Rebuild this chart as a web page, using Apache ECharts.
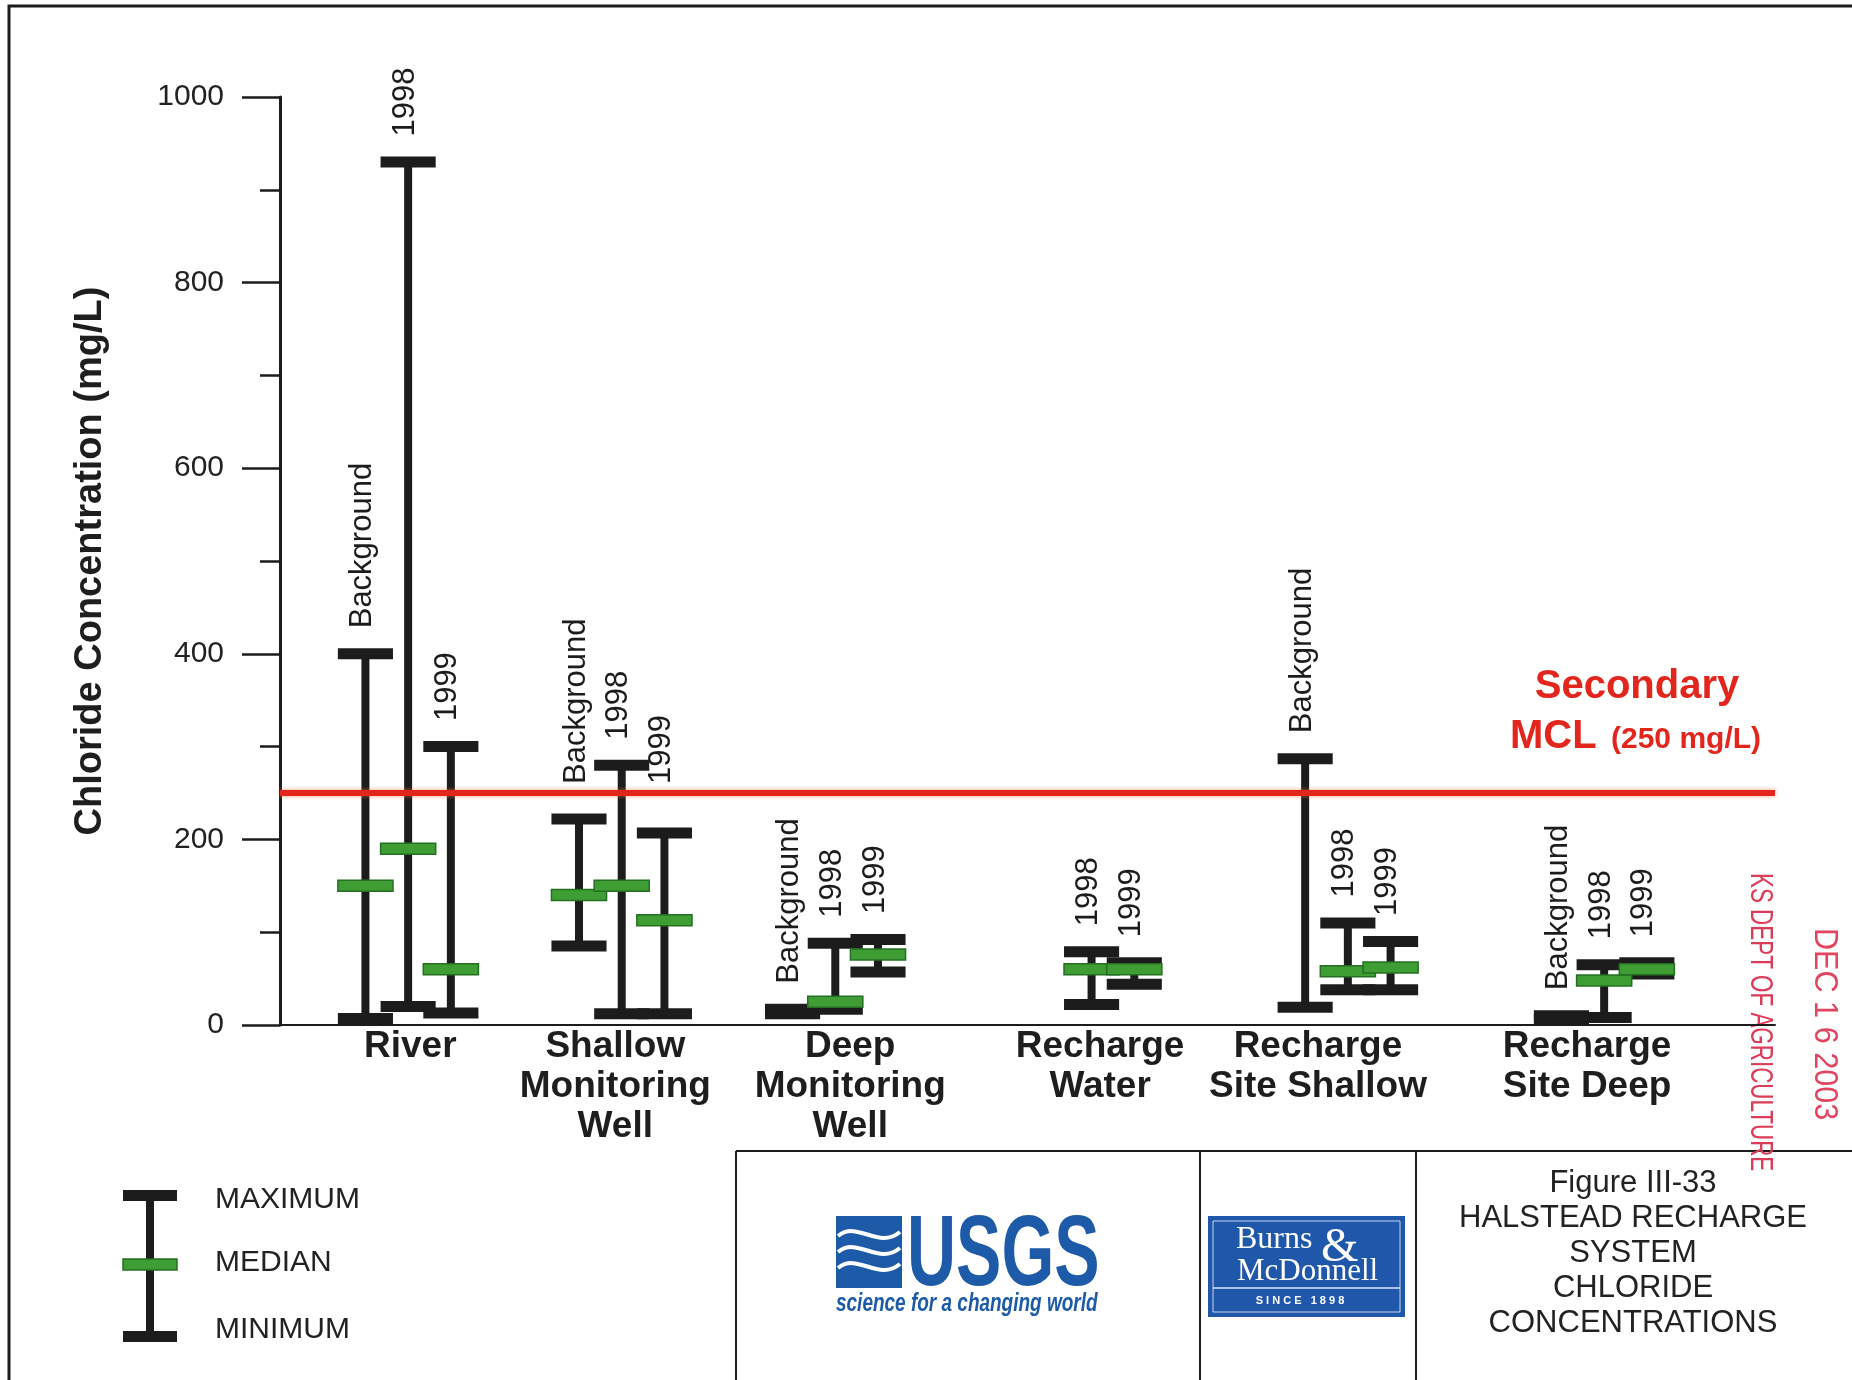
<!DOCTYPE html>
<html>
<head>
    <meta charset="utf-8"/>
    <title>Halstead Recharge System - Chloride Concentrations</title>
    <style>
        html, body { margin: 0; padding: 0; background: #fff; }
        #main { width: 1852px; height: 1380px; }
    </style>
</head>
<body>
<div id="main"></div>
<script src="https://cdn.jsdelivr.net/npm/echarts@6/dist/echarts.min.js"></script>
<script>
    // wells along the x axis, and the well / period of every range bar
    var wells = ['River', 'Shallow\nMonitoring\nWell', 'Deep\nMonitoring\nWell',
        'Recharge\nWater', 'Recharge\nSite Shallow', 'Recharge\nSite Deep'];
    var barWell = [0, 0, 0, 1, 1, 1, 2, 2, 2, 3, 3, 4, 4, 4, 5, 5, 5];
    var barPeriod = ['Background', '1998', '1999', 'Background', '1998', '1999',
        'Background', '1998', '1999', '1998', '1999',
        'Background', '1998', '1999', 'Background', '1998', '1999'];

    // chloride, mg/L
    var maximum = [400, 930, 300, 222, 280, 207, 17, 88, 92, 79, 67, 287, 110, 90, 10, 65, 67];
    var minimum = [7, 20, 13, 85, 12, 12, 12, 17, 57, 22, 44, 19, 38, 38, 6, 8, 55];
    var median = [150, 190, 60, 140, 150, 113, null, 25, 76, 60, 60, null, 58, 62, null, 48, 60];

    var yTicks = [0, 200, 400, 600, 800, 1000];
    var mcl = 250;

    // layout of the hidden x scale: one slot per bar, empty slots between wells
    var wellSlot = [3, 8, 13, 19, 25, 31];
    var periodShift = {'Background': -1, '1998': 0, '1999': 1};
    var wellLabelAt = [3.05, 7.85, 13.35, 19.2, 24.3, 30.6];

    var INK = '#1c1c1c';
    var GREEN = '#3e9e34';
    var RED = '#e3261d';
    var FONT = '"Liberation Sans", Arial, sans-serif';
    var CAP = 11, STEM = 8, CAP_SLOTS = 1.29;
    var LABEL_FONT = '31px ' + FONT;

    var measureCtx = document.createElement('canvas').getContext('2d');
    function textLength(s) {
        measureCtx.font = LABEL_FONT;
        return measureCtx.measureText(s).width;
    }

    var rangeData = barWell.map(function (w, i) {
        return [wellSlot[w] + periodShift[barPeriod[i]], maximum[i], minimum[i]];
    });
    var medianData = [];
    barWell.forEach(function (w, i) {
        if (median[i] != null) medianData.push([wellSlot[w] + periodShift[barPeriod[i]], median[i]]);
    });

    function renderRange(params, api) {
        var top = api.coord([api.value(0), api.value(1)]);
        var bot = api.coord([api.value(0), api.value(2)]);
        var mclY = api.coord([0, mcl])[1];
        var capW = api.size([CAP_SLOTS, 0])[0];
        var text = barPeriod[params.dataIndex];
        var labelY = top[1] - CAP / 2 - 20;
        // a label that would cross the MCL line is lifted to sit just above it
        if (labelY > mclY - 9 && labelY - textLength(text) < mclY) labelY = mclY - 9;
        return {
            type: 'group',
            children: [
                {type: 'rect', shape: {x: top[0] - STEM / 2, y: top[1], width: STEM, height: bot[1] - top[1]}, style: {fill: INK}},
                {type: 'rect', shape: {x: top[0] - capW / 2, y: top[1] - CAP / 2, width: capW, height: CAP}, style: {fill: INK}},
                {type: 'rect', shape: {x: bot[0] - capW / 2, y: bot[1] - CAP / 2, width: capW, height: CAP}, style: {fill: INK}},
                {
                    type: 'text', x: top[0] - 3, y: labelY, rotation: Math.PI / 2,
                    style: {text: text, fill: INK, font: LABEL_FONT, align: 'left', verticalAlign: 'middle'}
                }
            ]
        };
    }

    function renderMedian(params, api) {
        var p = api.coord([api.value(0), api.value(1)]);
        var capW = api.size([CAP_SLOTS, 0])[0];
        return {
            type: 'rect',
            shape: {x: p[0] - capW / 2, y: p[1] - CAP / 2, width: capW, height: CAP},
            style: {fill: GREEN, stroke: '#246f22', lineWidth: 1.5}
        };
    }

    var myChart = echarts.init(document.getElementById('main'));

    var option = {
        backgroundColor: '#fff',
        animation: false,
        grid: {left: 280, right: 77, top: 97, bottom: 355, outerBoundsMode: 'none'},
        xAxis: {
            type: 'value', min: 0, max: 35,
            splitLine: {show: false},
            axisTick: {show: false},
            axisLine: {show: true, lineStyle: {color: INK, width: 2}},
            axisLabel: {
                customValues: wellLabelAt,
                formatter: function (v) {
                    var i = wellLabelAt.indexOf(v);
                    return i < 0 ? '' : wells[i];
                },
                color: '#1e1e1e', fontSize: 37, fontWeight: 'bold', fontFamily: FONT,
                lineHeight: 40, margin: 2
            }
        },
        yAxis: {
            type: 'value',
            min: yTicks[0], max: yTicks[yTicks.length - 1], interval: yTicks[1] - yTicks[0],
            name: 'Chloride Concentration (mg/L)',
            nameLocation: 'middle', nameRotate: 90, nameGap: 170,
            nameTextStyle: {color: '#1e1e1e', fontSize: 38, fontWeight: 'bold', fontFamily: FONT},
            splitLine: {show: false},
            axisLine: {show: true, lineStyle: {color: INK, width: 3}},
            axisTick: {show: true, length: 38, lineStyle: {color: INK, width: 2.5}},
            minorTick: {show: true, splitNumber: 2, length: 20, lineStyle: {color: INK, width: 2.5}},
            axisLabel: {
                color: '#222', fontSize: 30, fontFamily: FONT, margin: 56,
                formatter: function (v) { return String(v); }
            }
        },
        series: [
            {
                name: 'range', type: 'custom', renderItem: renderRange,
                encode: {x: 0, y: [1, 2]}, data: rangeData, z: 3,
                markLine: {
                    silent: true, symbol: 'none', label: {show: false},
                    lineStyle: {color: RED, width: 6, type: 'solid', shadowColor: 'rgba(245,120,60,0.7)', shadowBlur: 4},
                    data: [{yAxis: mcl}]
                }
            },
            {
                name: 'median', type: 'custom', renderItem: renderMedian,
                encode: {x: 0, y: 1}, data: medianData, z: 4
            }
        ],
        graphic: [
            // page frame
            {type: 'polyline', shape: {points: [[9, 1380], [9, 6], [1852, 6]]}, style: {stroke: INK, lineWidth: 3, fill: null}},
            // MCL annotation
            {type: 'text', x: 1637, y: 687, style: {text: 'Secondary', fill: RED, font: 'bold 40px ' + FONT, align: 'center', verticalAlign: 'middle'}},
            {type: 'text', x: 1510, y: 757, style: {text: 'MCL', fill: RED, font: 'bold 40px ' + FONT, align: 'left', verticalAlign: 'bottom'}},
            {type: 'text', x: 1611, y: 755, style: {text: '(250 mg/L)', fill: RED, font: 'bold 30px ' + FONT, align: 'left', verticalAlign: 'bottom'}},
            // legend key
            {type: 'rect', shape: {x: 146, y: 1195, width: 8, height: 141}, style: {fill: INK}},
            {type: 'rect', shape: {x: 123, y: 1190, width: 54, height: CAP}, style: {fill: INK}},
            {type: 'rect', shape: {x: 123, y: 1331, width: 54, height: CAP}, style: {fill: INK}},
            {type: 'rect', shape: {x: 123, y: 1259, width: 54, height: CAP}, style: {fill: GREEN, stroke: '#246f22', lineWidth: 1.5}},
            {type: 'text', x: 215, y: 1200, style: {text: 'MAXIMUM', fill: '#222', font: '30px ' + FONT, verticalAlign: 'middle'}},
            {type: 'text', x: 215, y: 1263, style: {text: 'MEDIAN', fill: '#222', font: '30px ' + FONT, verticalAlign: 'middle'}},
            {type: 'text', x: 215, y: 1330, style: {text: 'MINIMUM', fill: '#222', font: '30px ' + FONT, verticalAlign: 'middle'}},
            // title block
            {type: 'line', shape: {x1: 736, y1: 1151, x2: 1852, y2: 1151}, style: {stroke: INK, lineWidth: 2}},
            {type: 'line', shape: {x1: 736, y1: 1151, x2: 736, y2: 1380}, style: {stroke: INK, lineWidth: 2}},
            {type: 'line', shape: {x1: 1200, y1: 1151, x2: 1200, y2: 1380}, style: {stroke: INK, lineWidth: 2}},
            {type: 'line', shape: {x1: 1416, y1: 1151, x2: 1416, y2: 1380}, style: {stroke: INK, lineWidth: 2}},
            {type: 'text', x: 1633, y: 1166, style: {text: 'Figure III-33\nHALSTEAD RECHARGE\nSYSTEM\nCHLORIDE\nCONCENTRATIONS',
                fill: '#222', font: '31px ' + FONT, lineHeight: 35, align: 'center', verticalAlign: 'top'}},
            // USGS logo
            {type: 'rect', shape: {x: 836, y: 1216, width: 66, height: 72}, style: {fill: '#1d5aa8'}},
            {type: 'bezierCurve', shape: {x1: 838, y1: 1236, cpx1: 858, cpy1: 1220, cpx2: 878, cpy2: 1250, x2: 900, y2: 1232}, style: {stroke: '#fff', lineWidth: 4, fill: null}},
            {type: 'bezierCurve', shape: {x1: 838, y1: 1252, cpx1: 858, cpy1: 1236, cpx2: 878, cpy2: 1266, x2: 900, y2: 1248}, style: {stroke: '#fff', lineWidth: 4, fill: null}},
            {type: 'bezierCurve', shape: {x1: 838, y1: 1268, cpx1: 858, cpy1: 1252, cpx2: 878, cpy2: 1282, x2: 900, y2: 1264}, style: {stroke: '#fff', lineWidth: 4, fill: null}},
            {type: 'text', x: 907, y: 1307, scaleX: 0.68, style: {text: 'USGS', fill: '#1d5aa8', font: 'bold 100px ' + FONT, align: 'left', verticalAlign: 'bottom'}},
            {type: 'text', x: 836, y: 1304, scaleX: 0.73, style: {text: 'science for a changing world', fill: '#1d5aa8', font: 'italic bold 26px ' + FONT, align: 'left', verticalAlign: 'middle'}},
            // Burns & McDonnell logo
            {type: 'rect', shape: {x: 1208, y: 1216, width: 197, height: 101}, style: {fill: '#1f57ab'}},
            {type: 'rect', shape: {x: 1213, y: 1221, width: 187, height: 91}, style: {fill: null, stroke: 'rgba(255,255,255,0.75)', lineWidth: 1}},
            {type: 'line', shape: {x1: 1213, y1: 1288, x2: 1400, y2: 1288}, style: {stroke: 'rgba(255,255,255,0.85)', lineWidth: 1.5}},
            {type: 'text', x: 1236, y: 1240, style: {text: 'Burns', fill: '#fff', font: '32px "Liberation Serif", serif', verticalAlign: 'middle'}},
            {type: 'text', x: 1321, y: 1248, style: {text: '&', fill: '#fff', font: '48px "Liberation Serif", serif', verticalAlign: 'middle'}},
            {type: 'text', x: 1237, y: 1272, style: {text: 'McDonnell', fill: '#fff', font: '31px "Liberation Serif", serif', verticalAlign: 'middle'}},
            {type: 'text', x: 1300, y: 1301, style: {text: 'S I N C E   1 8 9 8', fill: '#fff', font: 'bold 11px ' + FONT, align: 'center', verticalAlign: 'middle'}},
            // receiving stamps
            {type: 'text', x: 1760, y: 873, rotation: -Math.PI / 2, scaleX: 0.7,
                style: {text: 'KS DEPT OF AGRICULTURE', fill: '#dc3c58', font: '32px ' + FONT, align: 'left', verticalAlign: 'middle'}},
            {type: 'text', x: 1824, y: 928, rotation: -Math.PI / 2, scaleX: 0.9,
                style: {text: 'DEC 1 6 2003', fill: '#e2455f', font: '34px ' + FONT, align: 'left', verticalAlign: 'middle'}}
        ]
    };

    myChart.setOption(option);
</script>
</body>
</html>
